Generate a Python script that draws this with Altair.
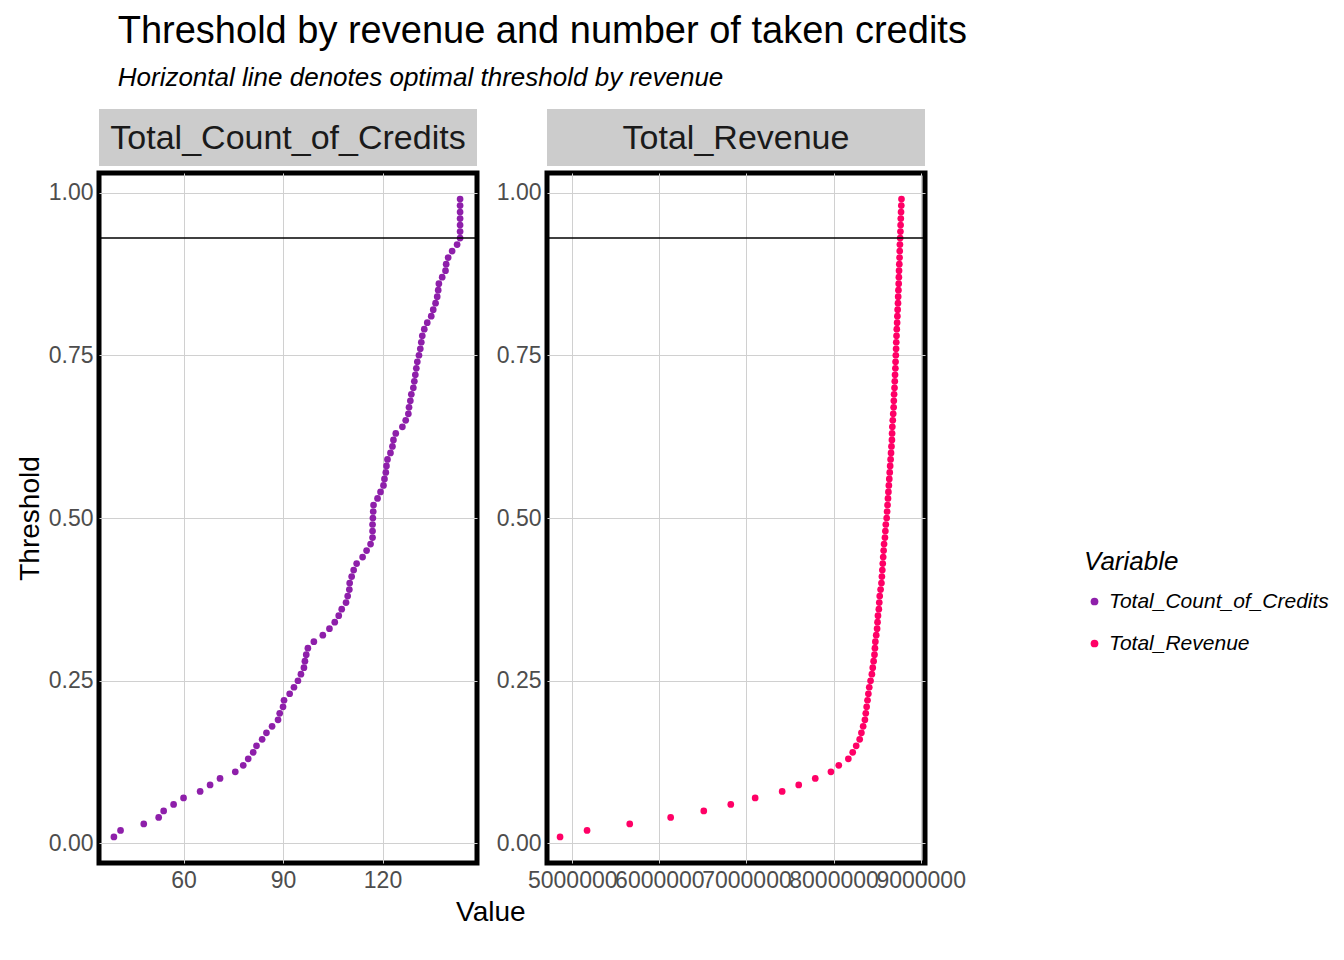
import altair as alt
import pandas as pd

thresholds = [round(0.01 * i, 2) for i in range(1, 100)]

credits = [39, 41, 48, 52.5, 54, 57, 60, 65, 68, 71,
           75.6, 78, 79.5, 81, 82, 83.7, 85, 86.7, 88.5, 89,
           90, 90.3, 92, 93.3, 94.5, 95.4, 96.3, 96.6, 97, 97.5,
           99.3, 102, 104, 105.6, 106.8, 107.7, 109, 109.5, 110, 110.1,
           110.7, 111.3, 112.2, 114, 115.2, 116.4, 117, 117, 117, 117.1,
           117.2, 117.3, 118.5, 119.4, 120.3, 120.6, 121, 121.2, 121.5, 122.4,
           123, 123.3, 124, 126, 127, 127.8, 128, 128.4, 128.7, 129.3,
           129.6, 129.9, 130.2, 130.5, 131, 131.4, 131.7, 132, 132.6, 133.5,
           134.7, 135.3, 136, 136.5, 136.8, 137, 138, 139, 139.2, 139.8,
           141, 142.5, 143.4, 143.4, 143.4, 143.4, 143.4, 143.4, 143.4]

revenue_m = [4.86, 5.17, 5.66, 6.13, 6.51, 6.82, 7.10, 7.41, 7.60, 7.79,
             7.97, 8.06, 8.17, 8.22, 8.26, 8.30, 8.32, 8.34, 8.36, 8.37,
             8.38, 8.39, 8.40, 8.41, 8.425, 8.44, 8.45, 8.46, 8.47, 8.475,
             8.48, 8.49, 8.50, 8.505, 8.51, 8.52, 8.525, 8.53, 8.54, 8.55,
             8.555, 8.56, 8.565, 8.57, 8.575, 8.58, 8.59, 8.595, 8.60, 8.61,
             8.615, 8.62, 8.625, 8.63, 8.635, 8.64, 8.645, 8.65, 8.655, 8.66,
             8.665, 8.67, 8.672, 8.675, 8.68, 8.685, 8.69, 8.692, 8.695, 8.70,
             8.703, 8.706, 8.71, 8.712, 8.715, 8.718, 8.72, 8.723, 8.726, 8.73,
             8.733, 8.736, 8.74, 8.742, 8.745, 8.748, 8.75, 8.752, 8.755, 8.758,
             8.76, 8.762, 8.765, 8.768, 8.77, 8.772, 8.775, 8.778, 8.78]

optimal_threshold = 0.93
variables = ["Total_Count_of_Credits", "Total_Revenue"]
colors = ["#8E1FAA", "#FF0066"]
FONT = "Liberation Sans"

df_c = pd.DataFrame({"Threshold": thresholds, "Value": credits, "Variable": variables[0]})
df_r = pd.DataFrame({"Threshold": thresholds, "Value": [v * 1e6 for v in revenue_m],
                     "Variable": variables[1]})


def panel(df, name, domain, ticks, show_y_title):
    pts = alt.Chart(df).mark_circle(size=45, opacity=1).encode(
        x=alt.X("Value:Q", title=None, scale=alt.Scale(domain=domain, nice=False, zero=False),
                axis=alt.Axis(values=ticks, format="d", labelOverlap=False, labelFlush=False)),
        y=alt.Y("Threshold:Q", title="Threshold" if show_y_title else None,
                scale=alt.Scale(domain=[-0.03, 1.03], nice=False),
                axis=alt.Axis(values=[0, 0.25, 0.5, 0.75, 1.0], format=".2f")),
        color=alt.Color("Variable:N", scale=alt.Scale(domain=variables, range=colors),
                        legend=alt.Legend(title="Variable", orient="none",
                                          legendX=985, legendY=440)),
    )
    hline = alt.Chart(pd.DataFrame({"t": [optimal_threshold]})).mark_rule(
        color="black", strokeWidth=1.5).encode(y="t:Q")
    body = alt.layer(pts, hline).properties(width=378, height=690)
    header = alt.Chart(pd.DataFrame({"name": [name]})).mark_text(
        font=FONT, fontSize=34, color="#1a1a1a").encode(
        text="name:N", x=alt.value(189), y=alt.value(30)
    ).properties(width=378, height=57, view=alt.ViewConfig(fill="#CCCCCC", stroke=None))
    return alt.vconcat(header, body, spacing=4)


left = panel(df_c, variables[0], [34.5, 148.5], [60, 90, 120], True)
right = panel(df_r, variables[1], [4.71e6, 9.05e6], [5e6, 6e6, 7e6, 8e6, 9e6], False)

chart = alt.vconcat(
    alt.hconcat(left, right, spacing=12).properties(
        title=alt.TitleParams("Value", orient="bottom", anchor="middle", fontSize=28,
                              fontWeight="normal", font=FONT, color="black", subtitle="")),
).properties(
    title=alt.TitleParams("Threshold by revenue and number of taken credits",
                          subtitle="Horizontal line denotes optimal threshold by revenue",
                          anchor="start", dx=104, fontSize=38, fontWeight="normal", font=FONT,
                          color="black", subtitleFont=FONT, subtitleFontSize=26,
                          subtitleFontStyle="italic", subtitleColor="black",
                          subtitlePadding=14, offset=18)
).configure_view(
    stroke="black", strokeWidth=5
).configure_axis(
    grid=True, gridColor="#D0D0D0", domain=False, ticks=False,
    labelFont=FONT, labelFontSize=23, labelColor="#4D4D4D", labelPadding=6,
    titleFont=FONT, titleFontSize=28, titleFontWeight="normal", titleColor="black"
).configure_legend(
    titleFont=FONT, titleFontSize=26, titleFontStyle="italic", titleFontWeight="normal",
    titleColor="black", labelFont=FONT, labelFontSize=21, labelFontStyle="italic",
    labelColor="black", labelLimit=0, symbolSize=60, rowPadding=20, titlePadding=16
).configure_concat(spacing=8)

chart.save("out.html", embed_options={"renderer": "svg", "actions": False})
